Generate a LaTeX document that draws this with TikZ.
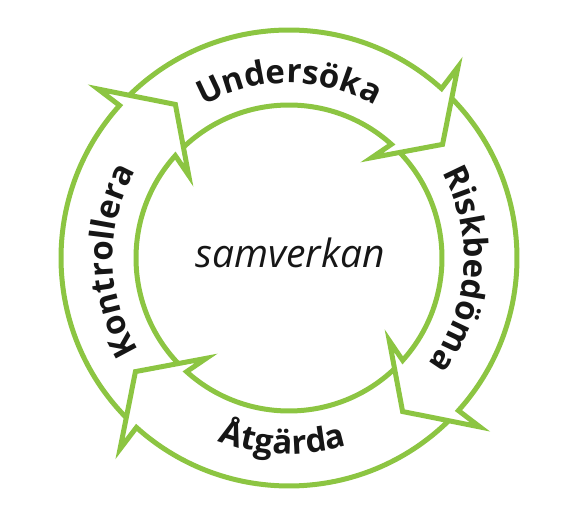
\documentclass[tikz,border=0pt]{standalone}
\usepackage{fontspec}
\setmainfont{Open Sans}
\usetikzlibrary{calc,decorations.text}
\definecolor{ringgreen}{RGB}{140,197,66}
\definecolor{txt}{RGB}{22,22,22}
\newcommand\lblfont{\fontsize{33}{40}\selectfont\bfseries}
\tikzset{
  ring/.style={draw=ringgreen, line width=5pt, line join=miter, miter limit=10},
  curvedlabel/.style={decorate, decoration={text along path, text={|\lblfont|#1}, text align=center, text color=txt}}
}
% #1 = angle of the head base of one cyclic arrow
\newcommand\cyclearrow[1]{%
  \pgfmathsetmacro\tailang{#1+90}%
  \draw[ring] ($(C)+(\tailang-3.54:228)$) arc[start angle=\tailang-3.54, end angle=#1, radius=228]
    -- ($(C)+(#1+0.5:255)$) -- ($(C)+(#1-11.5:191)$) -- ($(C)+(#1+2.5:130)$) -- ($(C)+(#1:153)$)
    arc[start angle=#1, end angle=\tailang-4.37, radius=153];
}
\begin{document}
\begin{tikzpicture}[x=1pt,y=1pt]
\useasboundingbox (0,0) rectangle (582,517);
\coordinate (C) at (289,259);
\cyclearrow{48}
\cyclearrow{-42}
\cyclearrow{-132}
\cyclearrow{138}
\path[curvedlabel={Undersöka}] (C) ++(150:175) arc[start angle=150, end angle=30, radius=175];
\path[curvedlabel={Riskbedöma}] (C) ++(56:175) arc[start angle=56, end angle=-64, radius=175];
\path[curvedlabel={Kontrollera}] (C) ++(241:176) arc[start angle=241, end angle=121, radius=176];
\path[curvedlabel={Åtgärda}] (C) ++(-152:196) arc[start angle=-152, end angle=-32, radius=196];
\node[anchor=base, text=txt, font=\fontsize{39}{44}\selectfont\itshape] (center) at (290,249) {samverkan};
\end{tikzpicture}
\end{document}
